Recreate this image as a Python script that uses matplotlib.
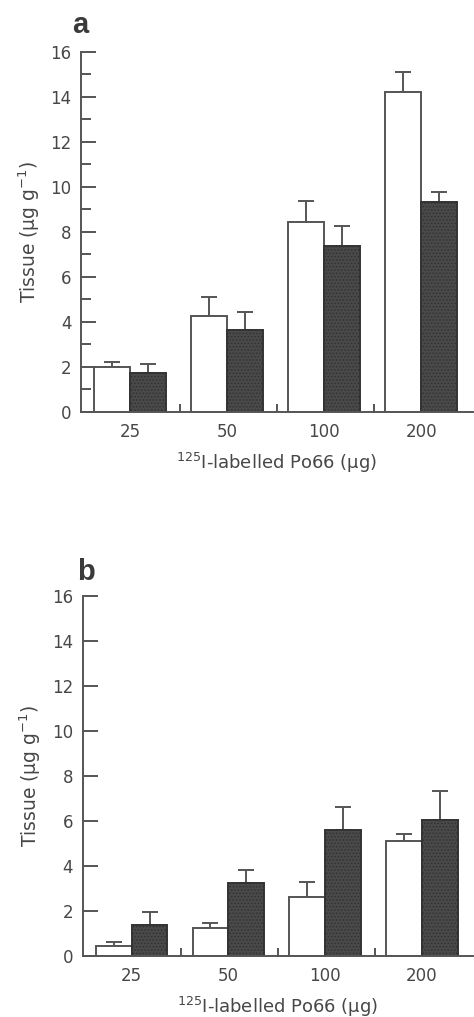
import matplotlib
matplotlib.use("Agg")
import matplotlib.pyplot as plt
import numpy as np

plt.rcParams['font.family'] = ['DejaVu Sans']
plt.rcParams['mathtext.fontset'] = 'dejavusans'
plt.rcParams['hatch.color'] = '#a0a0a0'
plt.rcParams['hatch.linewidth'] = 0.8

doses = ['25', '50', '100', '200']

a_white = [2.0, 4.27, 8.45, 14.2]
a_white_err = [0.2, 0.83, 0.9, 0.88]
a_dark = [1.72, 3.65, 7.35, 9.3]
a_dark_err = [0.38, 0.8, 0.88, 0.45]

b_white = [0.44, 1.23, 2.64, 5.11]
b_white_err = [0.18, 0.22, 0.66, 0.31]
b_dark = [1.36, 3.26, 5.6, 6.04]
b_dark_err = [0.58, 0.58, 1.04, 1.31]

GRAY = '#555555'
TXT = '#474747'

fig = plt.figure(figsize=(4.74, 10.17), dpi=100)
ax_a = fig.add_axes([0.171, 0.5952, 0.826, 0.354])
ax_b = fig.add_axes([0.1745, 0.060, 0.824, 0.354])

def draw(ax, white, werr, dark, derr, letter, minor, lx, ly):
    x = np.arange(len(doses))
    w = 0.37
    ax.bar(x - w / 2, white, w, color='white', edgecolor=GRAY, linewidth=1.4, zorder=2)
    ax.bar(x + w / 2, dark, w, color='#4a4a4a', edgecolor='#333333', hatch='.....',
           linewidth=1.4, zorder=2)
    ax.errorbar(x - w / 2, white, yerr=[np.zeros(len(werr)), werr], fmt='none',
                ecolor=GRAY, elinewidth=1.4, capsize=5.5, capthick=1.4, zorder=1)
    ax.errorbar(x + w / 2, dark, yerr=[np.zeros(len(derr)), derr], fmt='none',
                ecolor=GRAY, elinewidth=1.4, capsize=5.5, capthick=1.4, zorder=1)
    ax.set_xlim(-0.505, 3.53)
    ax.set_ylim(0, 16)
    ax.spines['top'].set_visible(False)
    ax.spines['right'].set_visible(False)
    for s in ('left', 'bottom'):
        ax.spines[s].set_color(GRAY)
        ax.spines[s].set_linewidth(1.4)
    ax.set_yticks(np.arange(0, 17, 2))
    if minor:
        ax.set_yticks(np.arange(1, 16, 2), minor=True)
    ax.tick_params(axis='y', which='major', direction='in', length=10.5, width=1.4,
                   color=GRAY, labelcolor=TXT, labelsize=12, pad=7)
    ax.tick_params(axis='y', which='minor', direction='in', length=7, width=1.4, color=GRAY)
    ax.set_xticks(x)
    ax.set_xticklabels(doses)
    ax.set_xticks(x[:-1] + 0.515, minor=True)
    ax.tick_params(axis='x', which='major', length=0, labelcolor=TXT, labelsize=12, pad=8)
    ax.tick_params(axis='x', which='minor', direction='in', length=6, width=1.4, color=GRAY)
    ax.set_xlabel(r'$\mathregular{^{125}}$I-labelled Po66 (μg)', fontsize=13, color=TXT, labelpad=7)
    ax.set_ylabel(r'Tissue (μg g$\mathregular{^{-1}}$)', fontsize=13.5, color=TXT, labelpad=6)
    ax.text(lx, ly, letter, transform=ax.transAxes, fontsize=21, fontweight='bold',
            family='Liberation Sans', color='#3a3a3a', ha='left', va='baseline')

draw(ax_a, a_white, a_white_err, a_dark, a_dark_err, 'a', True, -0.023, 1.052)
draw(ax_b, b_white, b_white_err, b_dark, b_dark_err, 'b', False, -0.015, 1.044)

fig.savefig('out.png', dpi=100)
